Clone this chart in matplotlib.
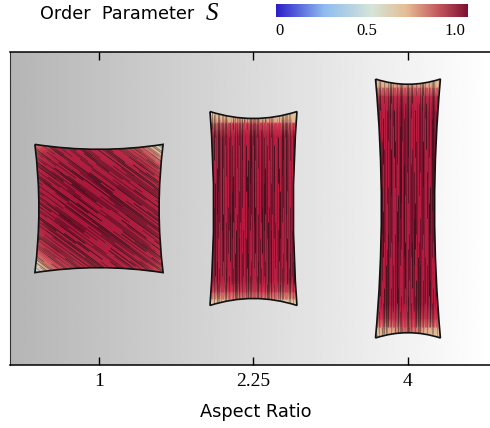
"""Order parameter S of confined nematic cells at three aspect ratios"""
import numpy as np
import matplotlib as mpl
mpl.use("Agg")
import matplotlib.pyplot as plt
from matplotlib.collections import LineCollection
from matplotlib.colors import LinearSegmentedColormap
from matplotlib.path import Path
from matplotlib.patches import PathPatch

mpl.rcParams.update({"font.family": "DejaVu Sans", "mathtext.fontset": "stix"})
SERIF = "Liberation Serif"

aspect_labels = ["1", "2.25", "4"]
cell_widths = [0.83, 0.563, 0.42]
cell_heights = [0.83, 1.255, 1.676]
top_sag = [0.032, 0.045, 0.034]
side_sag = [0.026, 0.024, 0.038]
director_deg = [-36, 90, 90]

# order parameter, rows top to bottom, at these fractions of the cell
fracs_square = [0, 0.06, 0.16, 0.35, 0.65, 0.84, 0.94, 1]
S_square = [
    [0.78, 0.82, 0.88, 0.90, 0.88, 0.78, 0.60, 0.35],
    [0.82, 0.90, 0.93, 0.94, 0.92, 0.84, 0.74, 0.60],
    [0.90, 0.94, 0.96, 0.96, 0.95, 0.93, 0.86, 0.80],
    [0.92, 0.96, 0.97, 0.99, 0.98, 0.96, 0.94, 0.92],
    [0.92, 0.94, 0.98, 0.99, 0.97, 0.96, 0.95, 0.92],
    [0.80, 0.86, 0.93, 0.95, 0.96, 0.94, 0.92, 0.90],
    [0.60, 0.74, 0.84, 0.92, 0.94, 0.93, 0.90, 0.85],
    [0.35, 0.60, 0.78, 0.88, 0.90, 0.88, 0.84, 0.80],
]
fracs_rows = [0, 0.03, 0.07, 0.13, 0.3, 0.5, 0.7, 0.87, 0.93, 0.97, 1]
S_mid = [
    [0.64, 0.66, 0.68, 0.66, 0.64],
    [0.68, 0.70, 0.72, 0.70, 0.68],
    [0.82, 0.86, 0.86, 0.86, 0.82],
    [0.95, 0.96, 0.96, 0.96, 0.95],
    [0.96, 0.97, 0.98, 0.97, 0.96],
    [0.97, 0.98, 0.99, 0.98, 0.97],
    [0.96, 0.97, 0.98, 0.97, 0.96],
    [0.95, 0.96, 0.96, 0.96, 0.95],
    [0.84, 0.86, 0.88, 0.86, 0.84],
    [0.70, 0.72, 0.76, 0.72, 0.70],
    [0.64, 0.66, 0.70, 0.66, 0.64],
]
S_tall = [
    [0.65, 0.66, 0.68, 0.66, 0.65],
    [0.74, 0.76, 0.78, 0.76, 0.74],
    [0.90, 0.92, 0.92, 0.92, 0.90],
    [0.96, 0.97, 0.97, 0.97, 0.96],
    [0.97, 0.98, 0.98, 0.98, 0.97],
    [0.97, 0.98, 0.99, 0.98, 0.97],
    [0.97, 0.98, 0.98, 0.98, 0.97],
    [0.96, 0.97, 0.97, 0.97, 0.96],
    [0.86, 0.88, 0.90, 0.88, 0.86],
    [0.70, 0.72, 0.82, 0.72, 0.70],
    [0.62, 0.64, 0.88, 0.64, 0.62],
]
S_grids = [S_square, S_mid, S_tall]
row_fracs = [fracs_square, fracs_rows, fracs_rows]

# streak look-up: 0 dark, 1 maroon, 2 bright
streak_kinds = [0, 2, 1, 2, 0, 2, 2, 1, 0, 2, 1, 1, 1, 2, 0, 1, 2, 1, 2, 0, 1, 2, 2]

cmap = LinearSegmentedColormap.from_list("op", [
    (0.0, "#2a1fc8"), (0.25, "#8fbcf0"), (0.5, "#d5e5d8"),
    (0.68, "#e5bd95"), (0.85, "#c2565c"), (1.0, "#7e1030")])


def cell_path(cx, w, h, ts, ss):
    l, r, b, t = cx - w / 2, cx + w / 2, -h / 2, h / 2
    verts = [(l, t), (cx, t - 2 * ts), (r, t), (r - 2 * ss, 0), (r, b),
             (cx, b + 2 * ts), (l, b), (l + 2 * ss, 0), (l, t)]
    codes = [Path.MOVETO] + [Path.CURVE3] * 8
    return Path(verts, codes)


def sample_S(grid, fy, fx, y, x):
    # bilinear look-up on the read grid
    r = np.interp(y, fy, range(grid.shape[0]))
    c = np.interp(x, fx, range(grid.shape[1]))
    r0, c0 = int(r), int(c)
    r1, c1 = min(r0 + 1, grid.shape[0] - 1), min(c0 + 1, grid.shape[1] - 1)
    a, b = r - r0, c - c0
    return ((1 - a) * (1 - b) * grid[r0, c0] + a * (1 - b) * grid[r1, c0]
            + (1 - a) * b * grid[r0, c1] + a * b * grid[r1, c1])


def streaks(cx, w, h, deg, grid, fy, fx):
    th = np.deg2rad(deg)
    d = np.array([np.cos(th), np.sin(th)])
    n = np.array([-d[1], d[0]])
    reach = np.hypot(w, h) / 2
    seg_len = 0.05
    block = 6 if deg == 90 else 4
    segs, cols = [], []
    for i, off in enumerate(np.arange(-reach, reach, 0.009)):
        for j, t in enumerate(np.arange(-reach - 0.2, reach, seg_len)):
            jb = (j + (i * 7) % 5) // block
            k = streak_kinds[(i * 5 + jb * jb * 3 + i * jb) % len(streak_kinds)]
            p0 = off * n + t * d
            p1 = off * n + (t + seg_len) * d
            mid = (p0 + p1) / 2
            if abs(mid[0]) > w / 2 + 0.02 or abs(mid[1]) > h / 2 + 0.02:
                continue
            s = sample_S(grid, fy, fx, (h / 2 - mid[1]) / h, (mid[0] + w / 2) / w)
            band = np.clip((0.9 - s) / 0.2, 0, 1)  # 1 in the pale disordered zones
            pale = np.array(cmap(s - 0.03)[:3])
            if k == 0:
                c = (0.06, 0.03, 0.03, 0.55 - 0.15 * band)
            elif k == 1:
                rgb = (1 - band) * np.array([0.36, 0.04, 0.12]) + band * pale * 0.6
                c = (*rgb, 0.5 + 0.2 * band)
            else:
                rgb = (1 - band) * np.array([0.84, 0.11, 0.27]) + band * pale
                c = (*rgb, 0.7 + 0.15 * band)
            segs.append([p0 + [cx, 0], p1 + [cx, 0]])
            cols.append(c)
    return segs, cols


fig = plt.figure(figsize=(4.9, 4.28), dpi=100)
W, H = 490, 428
ax = fig.add_axes([10 / W, 1 - 365 / H, 480 / W, 313 / H])
xlim = (-0.576, 2.531)
ylim = (-1.013, 1.013)
ax.imshow(np.linspace(0.71, 1.0, 256)[None, :], cmap="gray", vmin=0, vmax=1,
          extent=[*xlim, *ylim], aspect="auto", zorder=0)

for i, grid in enumerate(S_grids):
    w, h = cell_widths[i], cell_heights[i]
    fy = np.array(row_fracs[i])
    arr = np.asarray(grid)
    fx = fy if i == 0 else np.linspace(0, 1, arr.shape[1])
    path = cell_path(i, w, h, top_sag[i], side_sag[i])
    edge = PathPatch(path, fc="none", ec="#111111", lw=1.2, zorder=4)
    ax.add_patch(edge)
    mesh = ax.pcolormesh(i - w / 2 + fx * w, h / 2 - fy * h, arr, cmap=cmap, vmin=0, vmax=1,
                         shading="gouraud", zorder=1)
    mesh.set_clip_path(edge)
    segs, cols = streaks(i, w, h, director_deg[i], arr, fy, fx)
    lc = LineCollection(segs, colors=cols, linewidths=0.65, capstyle="butt", zorder=2)
    ax.add_collection(lc)
    lc.set_clip_path(edge)

ax.set_xlim(*xlim)
ax.set_ylim(*ylim)
ax.set_xticks(range(3))
ax.set_xticklabels(aspect_labels, fontfamily=SERIF, fontsize=14)
ax.set_yticks([])
ax.tick_params(axis="x", direction="in", top=True, length=5.5, width=1, pad=6)
ax.spines["right"].set_visible(False)
for side in ["top", "bottom"]:
    ax.spines[side].set_linewidth(1.1)
ax.spines["left"].set_color("#333333")
ax.set_xlabel("Aspect Ratio", fontsize=12.8)
ax.xaxis.set_label_coords(0.5125, -0.122)

cax = fig.add_axes([276 / W, 1 - 17 / H, 191 / W, 13 / H])
cax.imshow(np.linspace(0, 1, 256)[None, :], cmap=cmap, aspect="auto", extent=[0, 1, 0, 1])
cax.set_yticks([])
cax.set_xticks([0.02, 0.476, 0.935])
cax.set_xticklabels(["0", "0.5", "1.0"], fontfamily=SERIF, fontsize=12)
cax.tick_params(axis="x", length=0, pad=4)
for sp in cax.spines.values():
    sp.set_visible(False)

fig.text(40 / W, 1 - 14 / H, "Order  Parameter", fontsize=12.7, va="center")
fig.text(206 / W, 1 - 14 / H, "S", fontsize=18, fontfamily=SERIF, style="italic", va="center")

fig.savefig("out.png", dpi=100)
